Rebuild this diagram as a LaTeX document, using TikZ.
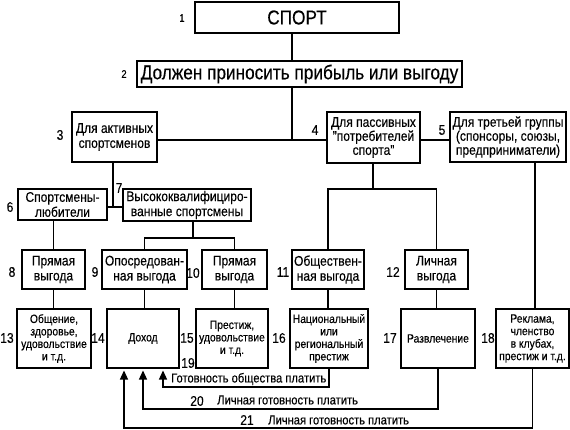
\documentclass[tikz,border=0pt]{standalone}
\usepackage{fontspec}
\setmainfont{Liberation Sans}[FakeStretch=0.86,FakeBold=0.3]
\usetikzlibrary{arrows.meta}
\begin{document}
\begin{tikzpicture}[x=1pt,y=-1pt,
  bx/.style={draw, line width=1.2pt, inner sep=0pt, align=center, font=\fontsize{14}{15}\selectfont},
  big/.style={bx, font=\fontsize{20}{22}\selectfont},
  mid/.style={bx, line width=1.6pt},
  low/.style={bx, line width=2pt, font=\fontsize{12}{12.5}\selectfont},
  lbl/.style={inner sep=0pt, font=\fontsize{14}{14}\selectfont},
  slbl/.style={inner sep=0pt, font=\fontsize{11}{11}\selectfont},
  txt/.style={inner sep=0pt, anchor=west, font=\fontsize{13}{13}\selectfont},
  cn/.style={line width=1.3pt},
  arr/.style={-{Triangle[length=9pt,width=8pt]}, shorten >=1.5pt}]
\useasboundingbox[fill=white] (0,0) rectangle (570,430);
% boxes
\node[big, minimum width=204pt, minimum height=31pt] (b1) at (297,17.5) {СПОРТ};
\node[big, minimum width=325pt, minimum height=26pt] (b2) at (299.5,74) {Должен приносить прибыль или выгоду};
\node[mid, minimum width=85pt, minimum height=50pt] (b3) at (114.5,137) {Для активных\\спортсменов};
\node[mid, minimum width=93pt, minimum height=51pt, font=\fontsize{14}{14}\selectfont] (b4) at (373.5,137.5) {Для пассивных\\"потребителей\\спорта"};
\node[mid, minimum width=116pt, minimum height=50pt, font=\fontsize{14}{14}\selectfont] (b5) at (508,137) {Для третьей группы\\(спонсоры, союзы,\\предприниматели)};
\node[mid, line width=1.9pt, minimum width=89pt, minimum height=31pt] (b6) at (62.5,204.5) {Спортсмены-\\любители};
\node[mid, line width=1.9pt, minimum width=128pt, minimum height=32pt] (b7) at (187,205) {Высококвалифициро-\\ванные спортсмены};
\node[bx, minimum width=63pt, minimum height=39pt] (b8) at (53.5,269.5) {Прямая\\выгода};
\node[bx, minimum width=85pt, minimum height=39pt] (b9) at (144.5,269.5) {Опосредован-\\ная выгода};
\node[bx, minimum width=65pt, minimum height=39pt] (b10) at (234.5,269.5) {Прямая\\выгода};
\node[bx, minimum width=72pt, minimum height=39pt] (b11) at (328,269.5) {Обществен-\\ная выгода};
\node[bx, minimum width=63pt, minimum height=39pt] (b12) at (436.5,269.5) {Личная\\выгода};
\node[low, minimum width=74pt, minimum height=59pt] (b13) at (54,338.5) {Общение,\\здоровье,\\удовольствие\\и т.д.};
\node[low, minimum width=72pt, minimum height=59pt] (b14) at (143,338.5) {Доход};
\node[low, minimum width=72pt, minimum height=59pt] (b15) at (232,338.5) {Престиж,\\удовольствие\\и т.д.};
\node[low, minimum width=78pt, minimum height=59pt] (b16) at (329,338.5) {Национальный\\или\\региональный\\престиж};
\node[low, minimum width=74pt, minimum height=59pt] (b17) at (438,338.5) {Развлечение};
\node[low, minimum width=73pt, minimum height=59pt] (b18) at (532.5,338.5) {Реклама,\\членство\\в клубах,\\престиж и т.д.};
% number labels
\node[slbl] (l1) at (182,18) {1};
\node[slbl] (l2) at (124,74) {2};
\node[lbl] (l3) at (60,135) {3};
\node[lbl] (l4) at (315,130) {4};
\node[lbl] (l5) at (442,130) {5};
\node[lbl] (l6) at (10,207) {6};
\node[lbl] (l7) at (119,188) {7};
\node[lbl] (l8) at (12,272) {8};
\node[lbl] (l9) at (95,272) {9};
\node[lbl] (l10) at (193,273) {10};
\node[lbl] (l11) at (283,272) {11};
\node[lbl] (l12) at (393,272) {12};
\node[lbl] (l13) at (7,338) {13};
\node[lbl] (l14) at (98,338) {14};
\node[lbl] (l15) at (187,338) {15};
\node[lbl] (l16) at (279,338) {16};
\node[lbl] (l17) at (390,338) {17};
\node[lbl] (l18) at (488,338) {18};
\node[lbl] (l19) at (188,363) {19};
\node[lbl] (l20) at (197,401) {20};
\node[lbl] (l21) at (247,420) {21};
\node[txt] (t19) at (171,379) {Готовность общества платить};
\node[txt] (t20) at (217,400) {Личная готовность платить};
\node[txt] (t21) at (268,420) {Личная готовность платить};
% connectors
\coordinate (jA) at (292,140);
\draw[cn] (jA |- b1.south) -- (jA |- b2.north);
\draw[cn] (jA |- b2.south) -- (jA);
\draw[cn] (b3.east |- jA) -- (b4.west |- jA);
\draw[cn] (b4.east |- jA) -- (b5.west |- jA);
\coordinate (jB) at (113,207);
\draw[cn] (jB |- b3.south) -- (jB);
\draw[cn] (b6.east |- jB) -- (b7.west |- jB);
\draw[cn] (b8.north |- b6.south) -- (b8.north);
\coordinate (jC) at (193,238);
\draw[cn] (jC |- b7.south) -- (jC);
\draw[cn] (b9.north) |- (b10.north |- jC) -- (b10.north);
\coordinate (jD) at (373,189);
\draw[cn] (jD |- b4.south) -- (jD);
\draw[cn] (b11.north) |- (b12.north |- jD) -- (b12.north);
\coordinate (jE) at (535,162);
\draw[cn] (jE |- b5.south) -- (jE |- b18.north);
\draw[cn] (b8.south) -- (b8.south |- b13.north);
\draw[cn] (b9.south) -- (b9.south |- b14.north);
\draw[cn] (b10.south) -- (b10.south |- b15.north);
\draw[cn] (b11.south) -- (b11.south |- b16.north);
\draw[cn] (b12.south) -- (b12.south |- b17.north);
% return arrows
\coordinate (r19) at (163,387);
\coordinate (r20) at (143,409);
\coordinate (r21) at (124,428);
\draw[cn, arr] (b16.south) |- (r19) -- (r19 |- b14.south);
\draw[cn, arr] (b17.south) |- (r20) -- (r20 |- b14.south);
\draw[cn, arr] (b18.south) |- (r21) -- (r21 |- b14.south);
\end{tikzpicture}
\end{document}
